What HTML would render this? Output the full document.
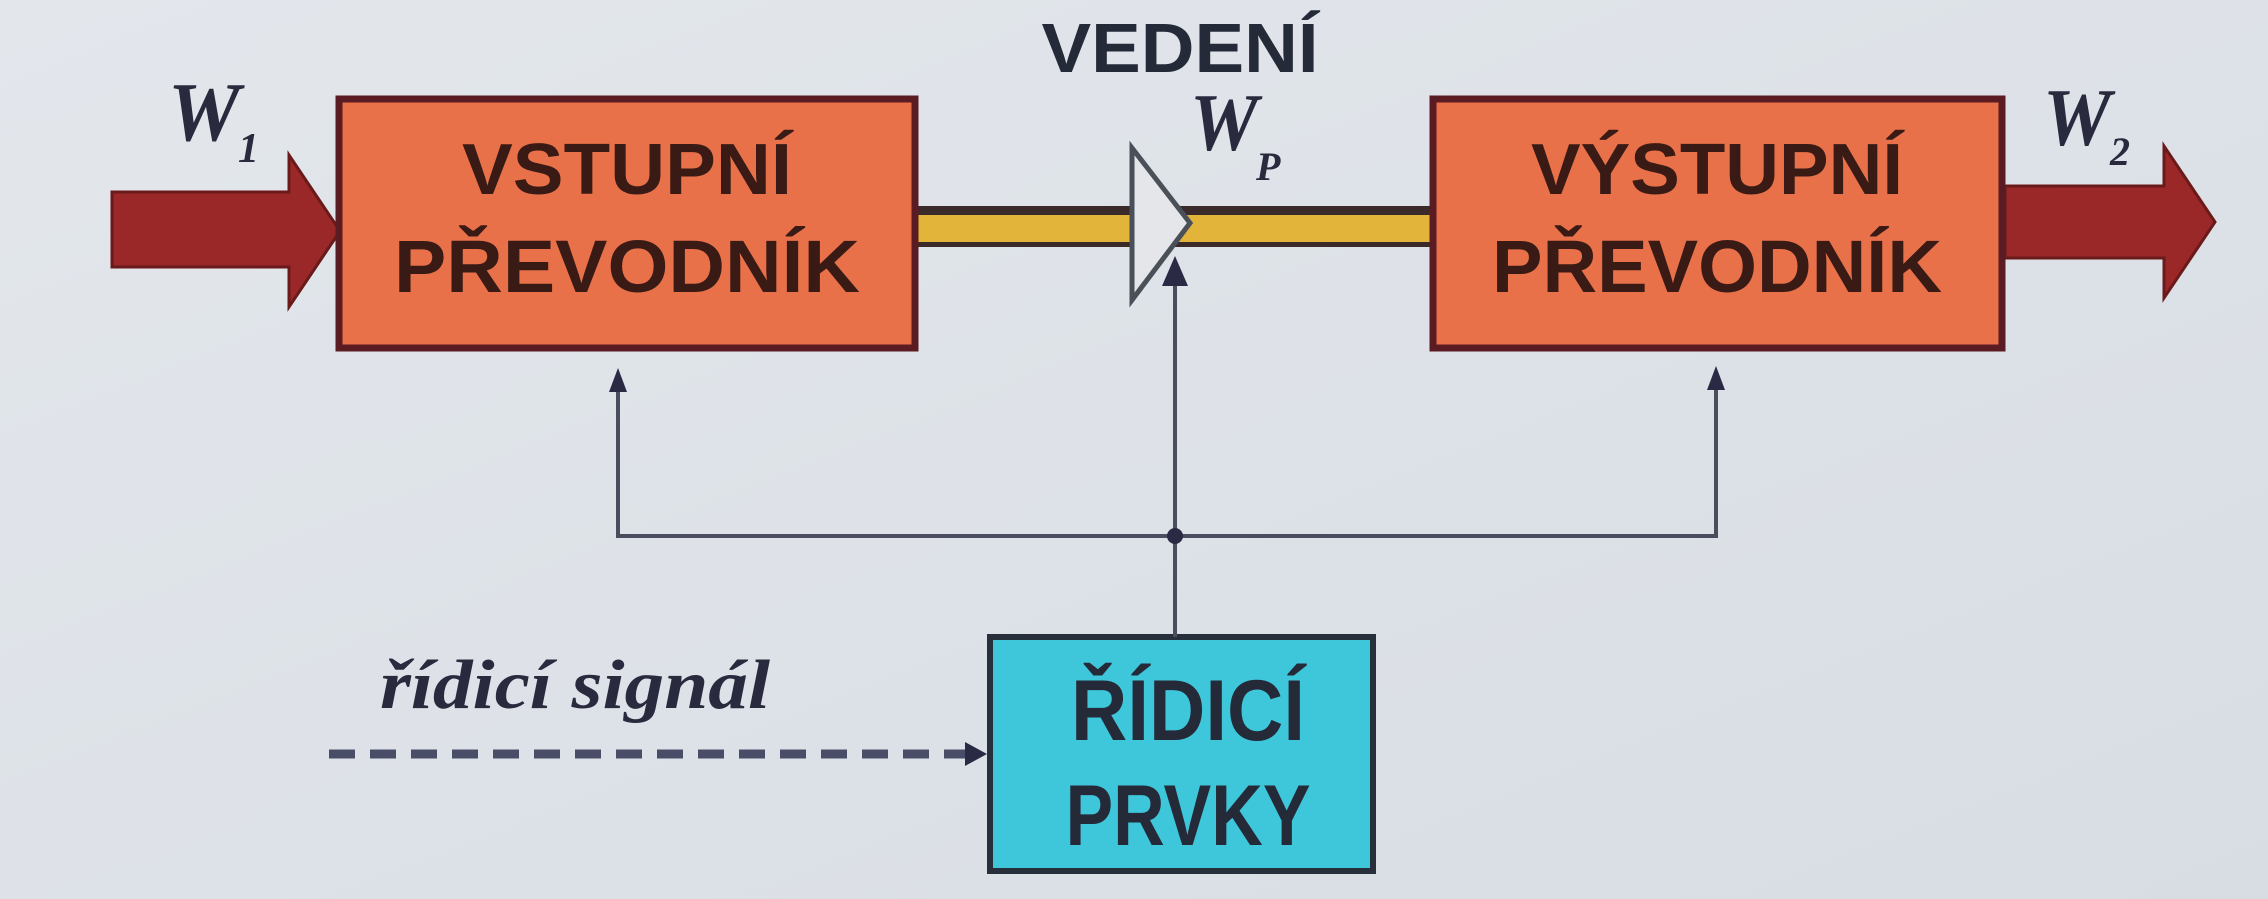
<!DOCTYPE html>
<html><head><meta charset="utf-8"><style>
html,body{margin:0;padding:0;width:2268px;height:899px;overflow:hidden;background:#dfe4ea}
</style></head><body>
<svg width="2268" height="899" viewBox="0 0 2268 899" xmlns="http://www.w3.org/2000/svg">
<defs>
<linearGradient id="bg" x1="0" y1="0" x2="1" y2="1">
<stop offset="0" stop-color="#e3e7ec"/><stop offset="1" stop-color="#d8dde4"/>
</linearGradient>
</defs>
<rect width="2268" height="899" fill="url(#bg)"/>

<rect x="915" y="206" width="520" height="41" fill="#3a2a2a"/>
<rect x="915" y="215" width="520" height="27" fill="#e2b43a"/>

<polygon points="112,192 289,192 289,155 340,231 289,307 289,267 112,267" fill="#9a2828" stroke="#6a1a1a" stroke-width="3"/>
<polygon points="2005,186 2164,186 2164,146 2215,222 2164,298 2164,258 2005,258" fill="#9a2828" stroke="#6a1a1a" stroke-width="3"/>

<rect x="339" y="99" width="576" height="249" fill="#e8714a" stroke="#5a1c22" stroke-width="7"/>
<rect x="1433" y="99" width="569" height="249" fill="#e8714a" stroke="#5a1c22" stroke-width="7"/>
<rect x="990" y="637" width="383" height="234" fill="#3ec6da" stroke="#27303a" stroke-width="6"/>

<g stroke="#4a4d5e" stroke-width="4" fill="none">
<polyline points="618,380 618,536 1716,536 1716,380"/>
<line x1="1175" y1="280" x2="1175" y2="637"/>
</g>
<g fill="#2a2a44">
<polygon points="618,368 609,392 627,392"/>
<polygon points="1716,366 1707,390 1725,390"/>
<circle cx="1175" cy="536" r="8"/>
<polygon points="1175,256 1162,286 1188,286"/>
<polygon points="987,754 965,742 965,766"/>
</g>
<line x1="329" y1="754" x2="965" y2="754" stroke="#4a4d68" stroke-width="9" stroke-dasharray="26,15"/>

<polygon points="1132,148 1190,223 1132,300" fill="#e4e6ea" stroke="#4a5058" stroke-width="5"/>

<g font-family="Liberation Sans, Arial, sans-serif" font-weight="bold" fill="#3a1a14">
<text x="627" y="194" font-size="72" text-anchor="middle" textLength="330" lengthAdjust="spacingAndGlyphs">VSTUPNÍ</text>
<text x="627" y="292" font-size="74" text-anchor="middle" textLength="466" lengthAdjust="spacingAndGlyphs">PŘEVODNÍK</text>
<text x="1717" y="194" font-size="72" text-anchor="middle" textLength="372" lengthAdjust="spacingAndGlyphs">VÝSTUPNÍ</text>
<text x="1717" y="292" font-size="74" text-anchor="middle" textLength="450" lengthAdjust="spacingAndGlyphs">PŘEVODNÍK</text>
</g>
<g font-family="Liberation Sans, Arial, sans-serif" font-weight="bold" fill="#252a38">
<text x="1180" y="72" font-size="70" text-anchor="middle" textLength="277" lengthAdjust="spacingAndGlyphs">VEDENÍ</text>
<text x="1188" y="740" font-size="86" text-anchor="middle" textLength="234" lengthAdjust="spacingAndGlyphs">ŘÍDICÍ</text>
<text x="1188" y="845" font-size="86" text-anchor="middle" textLength="245" lengthAdjust="spacingAndGlyphs">PRVKY</text>
</g>
<g font-family="Liberation Serif, Times New Roman, serif" font-weight="bold" font-style="italic" fill="#2a2a3e">
<text x="168" y="140" font-size="84" textLength="72" lengthAdjust="spacingAndGlyphs">W</text><text x="238" y="162" font-size="42">1</text>
<text x="1190" y="150" font-size="82" textLength="68" lengthAdjust="spacingAndGlyphs">W</text><text x="1256" y="180" font-size="40">P</text>
<text x="2043" y="145" font-size="82" textLength="68" lengthAdjust="spacingAndGlyphs">W</text><text x="2110" y="165" font-size="40">2</text>
<text x="380" y="708" font-size="70" textLength="390" lengthAdjust="spacingAndGlyphs">řídicí signál</text>
</g>
</svg>
</body></html>
